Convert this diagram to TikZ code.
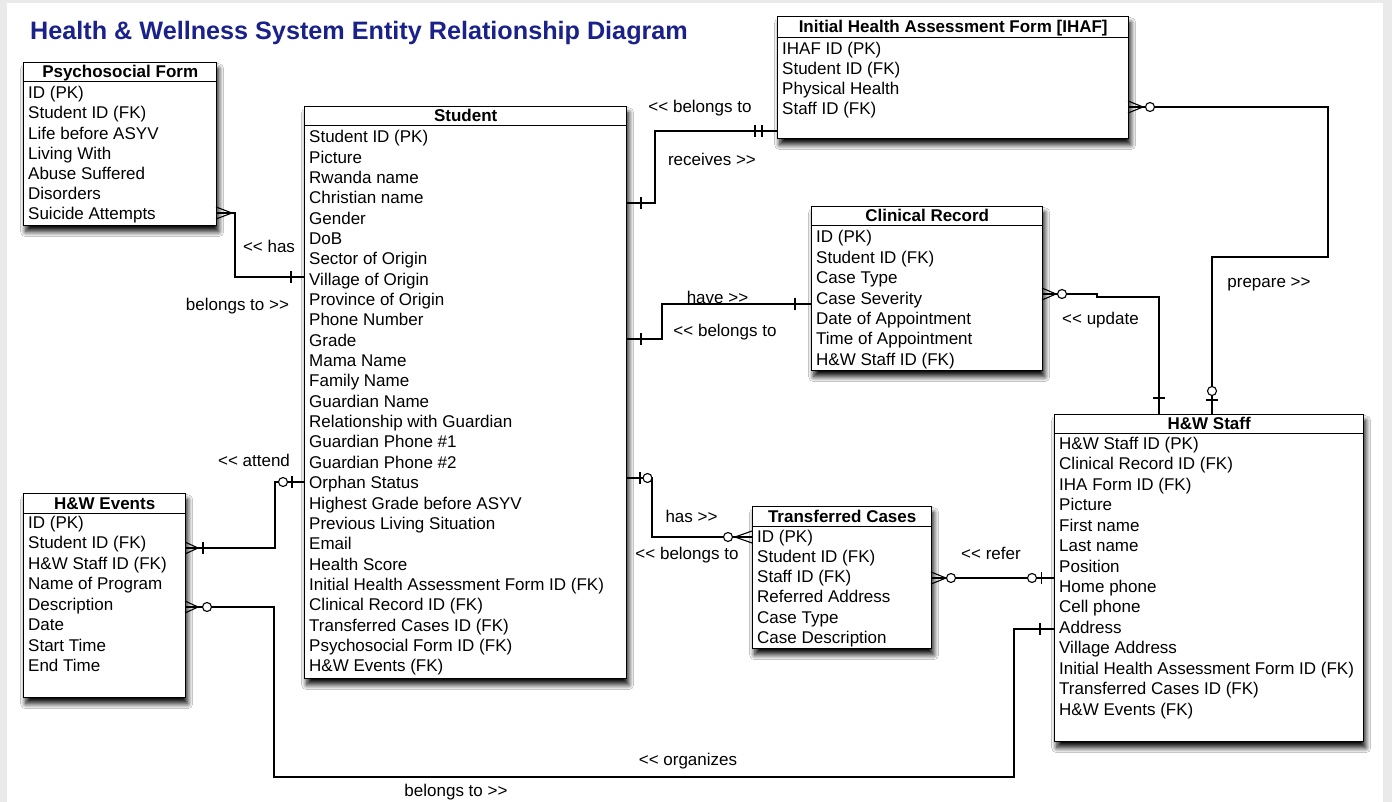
\documentclass[tikz,border=0pt]{standalone}
\usepackage{fontspec}
\setmainfont{Liberation Sans}[Ligatures=TeXOff]
\usetikzlibrary{shadows.blur}
\definecolor{titleblue}{RGB}{26,34,138}
\definecolor{framegray}{RGB}{234,234,234}
\newcommand\vtick[2]{\draw[conn] (#1,{#2-6}) -- (#1,{#2+6});}
\newcommand\htick[2]{\draw[conn] ({#1-6},#2) -- ({#1+6},#2);}
\newcommand\ring[2]{\draw[conn,fill=white] (#1,#2) circle (4.5);}
\newcommand\crow[3]{\draw[conn] (#3,{#2-6}) -- (#1,#2) -- (#3,{#2+6}) (#1,#2) -- (#3,#2);}
\newcommand\attrs[5]{\foreach \t [count=\i from 0] in {#5} {\node[attr] (#1-\i) at (#2,{#3+\i*#4}) {\t};}}
\tikzset{
  entity/.style={draw=black, line width=1.4pt, fill=white, inner sep=0pt, anchor=north west,
    blur shadow={shadow xshift=2pt, shadow yshift=-6pt, shadow blur radius=5pt, shadow blur steps=10, shadow opacity=95}},
  sep/.style={line width=1pt},
  hdr/.style={font=\bfseries\fontsize{17}{20}\selectfont, anchor=base, inner sep=0pt},
  attr/.style={font=\fontsize{17}{20}\selectfont, anchor=base west, inner sep=0pt},
  lbl/.style={font=\fontsize{17}{20}\selectfont, anchor=base, inner sep=0pt},
  conn/.style={line width=1.1pt}
}
\begin{document}
\begin{tikzpicture}[x=1pt,y=-1pt]
\useasboundingbox (0,0) rectangle (1392,802);
\fill[framegray] (0,0) rectangle (1392,802);
\fill[white] (7,3) rectangle (1383,802);

\node[anchor=base west, inner sep=0pt, font=\bfseries\fontsize{25.2}{30}\selectfont, text=titleblue] (title) at (30,39.5) {Health \& Wellness System Entity Relationship Diagram};

% entities
\node[entity, minimum width=193pt, minimum height=163pt] (psych) at (23,62) {};
\node[entity, minimum width=322pt, minimum height=572pt] (stu) at (304,106) {};
\node[entity, minimum width=351pt, minimum height=122pt] (ihaf) at (777,16) {};
\node[entity, minimum width=231pt, minimum height=164pt] (cr) at (811,206) {};
\node[entity, minimum width=179pt, minimum height=142pt] (tc) at (752,506) {};
\node[entity, minimum width=309pt, minimum height=327pt] (staff) at (1054,414) {};
\node[entity, minimum width=162pt, minimum height=204pt] (events) at (23,493) {};

% header separators
\draw[sep] (psych.west |- 0,82) -- (psych.east |- 0,82);
\draw[sep] (stu.west |- 0,126) -- (stu.east |- 0,126);
\draw[sep] (ihaf.west |- 0,37.5) -- (ihaf.east |- 0,37.5);
\draw[sep] (cr.west |- 0,225.5) -- (cr.east |- 0,225.5);
\draw[sep] (tc.west |- 0,526) -- (tc.east |- 0,526);
\draw[sep] (staff.west |- 0,433.5) -- (staff.east |- 0,433.5);
\draw[sep] (events.west |- 0,513) -- (events.east |- 0,513);

% headers
\node[hdr] (psych-h) at (psych.north |- 0,78) {Psychosocial Form};
\node[hdr] (stu-h) at (stu.north |- 0,122) {Student};
\node[hdr] (ihaf-h) at (ihaf.north |- 0,32.7) {Initial Health Assessment Form [IHAF]};
\node[hdr] (cr-h) at (cr.north |- 0,221.8) {Clinical Record};
\node[hdr] (tc-h) at (tc.north |- 0,522) {Transferred Cases};
\node[hdr] (staff-h) at (staff.north |- 0,429.8) {H\&W Staff};
\node[hdr] (events-h) at (events.north |- 0,509) {H\&W Events};

% attributes
\attrs{psych}{28}{98.7}{20.2}{ID (PK), Student ID (FK), Life before ASYV, Living With, Abuse Suffered, Disorders, Suicide Attempts}
\attrs{stu}{309}{142.7}{20.35}{Student ID (PK), Picture, Rwanda name, Christian name, Gender, DoB, Sector of Origin, Village of Origin, Province of Origin, Phone Number, Grade, Mama Name, Family Name, Guardian Name, Relationship with Guardian, Guardian Phone \#1, Guardian Phone \#2, Orphan Status, Highest Grade before ASYV, Previous Living Situation, Email, Health Score, Initial Health Assessment Form ID (FK), Clinical Record ID (FK), Transferred Cases ID (FK), Psychosocial Form ID (FK), H\&W Events (FK)}
\attrs{ihaf}{782}{54.3}{20}{IHAF ID (PK), Student ID (FK), Physical Health, Staff ID (FK)}
\attrs{cr}{816}{242.7}{20.45}{ID (PK), Student ID (FK), Case Type, Case Severity, Date of Appointment, Time of Appointment, H\&W Staff ID (FK)}
\attrs{tc}{757}{542}{20.3}{ID (PK), Student ID (FK), Staff ID (FK), Referred Address, Case Type, Case Description}
\attrs{staff}{1059}{449.3}{20.45}{H\&W Staff ID (PK), Clinical Record ID (FK), IHA Form ID (FK), Picture, First name, Last name, Position, Home phone, Cell phone, Address, Village Address, Initial Health Assessment Form ID (FK), Transferred Cases ID (FK), H\&W Events (FK)}
\attrs{events}{28}{528.3}{20.5}{ID (PK), Student ID (FK), H\&W Staff ID (FK), Name of Program, Description, Date, Start Time, End Time}

% connectors
\draw[conn] (psych.east |- 0,213) -- (235,213) |- (stu.west |- 0,277);
\crow{232}{213}{216} \vtick{291}{277}

\draw[conn] (stu.east |- 0,203) -| (655,131) -- (ihaf.west |- 0,131);
\vtick{641}{203} \vtick{755}{131} \vtick{762}{131}

\draw[conn] (stu.east |- 0,339) -| (662,304) -- (cr.west |- 0,304);
\vtick{641}{339} \vtick{795}{304}

\draw[conn] (cr.east |- 0,294) -- (1097,294) -- (1097,297) -| (staff.north -| 1159,0);
\crow{1056}{294}{1042} \ring{1062}{294} \htick{1159}{398}

\draw[conn] (ihaf.east |- 0,107) -- (1328,107) |- (1212,257) -- (staff.north -| 1212,0);
\crow{1143}{107}{1128} \ring{1150}{107} \ring{1212}{391} \htick{1212}{400}

\draw[conn] (stu.east |- 0,478) -- (652,478) |- (tc.west |- 0,537);
\vtick{640}{478} \ring{647.5}{478} \ring{728}{537} \crow{735}{537}{752}

\draw[conn] (tc.east |- 0,578) -- (staff.west |- 0,578);
\crow{946}{578}{931} \ring{951}{578} \ring{1032}{578} \vtick{1041.5}{578}

\draw[conn] (staff.west |- 0,629) -- (1014,629) |- (274,777) |- (events.east |- 0,607);
\vtick{1040}{629} \ring{207}{607} \crow{198}{607}{185}

\draw[conn] (stu.west |- 0,482) -- (275,482) |- (events.east |- 0,548);
\vtick{292}{482} \ring{283}{482} \crow{198}{548}{185} \vtick{203}{548}

% labels
\node[lbl] (l-has) at (269,253) {<< has};
\node[lbl] (l-pbel) at (237.5,311) {belongs to >>};
\node[lbl] (l-ibel) at (700,113) {<< belongs to};
\node[lbl] (l-rec) at (712,166) {receives >>};
\node[lbl] (l-have) at (717.5,304) {have >>};
\node[lbl] (l-cbel) at (725,336) {<< belongs to};
\node[lbl] (l-upd) at (1100.5,324) {<< update};
\node[lbl] (l-prep) at (1269,288) {prepare >>};
\node[lbl] (l-thas) at (691.5,522) {has >>};
\node[lbl] (l-tbel) at (687,559) {<< belongs to};
\node[lbl] (l-ref) at (991,559) {<< refer};
\node[lbl] (l-att) at (254,466) {<< attend};
\node[lbl] (l-org) at (688,765) {<< organizes};
\node[lbl] (l-ebel) at (456,796) {belongs to >>};
\end{tikzpicture}
\end{document}
